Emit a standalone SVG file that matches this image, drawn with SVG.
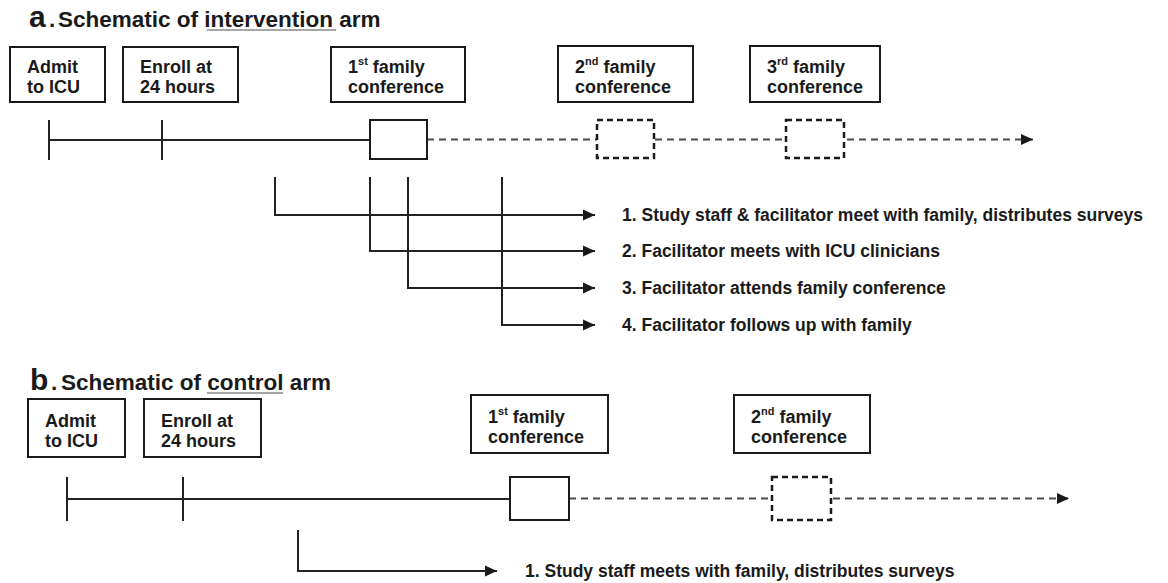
<svg xmlns="http://www.w3.org/2000/svg" width="1168" height="583" viewBox="0 0 1168 583">
<style>
text{font-family:"Liberation Sans",Arial,Helvetica,sans-serif;font-weight:bold;fill:#1a1a1a}
.lbl{font-size:18px}
.sup{font-size:11px}
.step{font-size:17.5px}
.ttl{font-size:22.5px}
.big{font-size:30px}
.box{fill:#fff;stroke:#1a1a1a;stroke-width:2}
.ln{fill:none;stroke:#222;stroke-width:2}
.dash{fill:none;stroke:#4a4a4a;stroke-width:2;stroke-dasharray:7 5}
.dbox{fill:#fff;stroke:#1a1a1a;stroke-width:2.5;stroke-dasharray:6 4}
.ul{stroke:#888;stroke-width:1.5}
</style>
<defs>
<marker id="arr" markerUnits="userSpaceOnUse" markerWidth="13" markerHeight="12" refX="12" refY="6" orient="auto">
<path d="M0,0.5 L12,6 L0,11.5 z" fill="#1a1a1a"/>
</marker>
</defs>

<g id="title-a">
<text x="29" y="27" class="big">a</text>
<text x="49" y="27" class="ttl">.</text>
<text x="58" y="27" class="ttl">Schematic of intervention arm</text>
<line class="ul" x1="207" y1="30" x2="336" y2="30"/>
</g>

<g id="a-admit"><rect class="box" x="10" y="47" width="95" height="55"/>
<text class="lbl" x="27" y="73">Admit</text><text class="lbl" x="27" y="93">to ICU</text></g>
<g id="a-enroll"><rect class="box" x="123" y="47" width="115" height="55"/>
<text class="lbl" x="140" y="73">Enroll at</text><text class="lbl" x="140" y="93">24 hours</text></g>
<g id="a-conf1"><rect class="box" x="331" y="47" width="134" height="55"/>
<text class="lbl" x="348" y="73">1<tspan class="sup" dy="-8">st</tspan><tspan dy="8"> family</tspan></text><text class="lbl" x="348" y="93">conference</text></g>
<g id="a-conf2"><rect class="box" x="558" y="46" width="135" height="56"/>
<text class="lbl" x="575" y="73">2<tspan class="sup" dy="-8">nd</tspan><tspan dy="8"> family</tspan></text><text class="lbl" x="575" y="93">conference</text></g>
<g id="a-conf3"><rect class="box" x="750" y="46" width="130" height="56"/>
<text class="lbl" x="767" y="73">3<tspan class="sup" dy="-8">rd</tspan><tspan dy="8"> family</tspan></text><text class="lbl" x="767" y="93">conference</text></g>

<g id="a-timeline">
<line class="ln" x1="49" y1="140" x2="370" y2="140"/>
<line class="ln" x1="49" y1="120" x2="49" y2="160"/>
<line class="ln" x1="162" y1="120" x2="162" y2="160"/>
<line class="dash" x1="427" y1="139.5" x2="1033" y2="139.5" marker-end="url(#arr)"/>
<rect class="box" x="370" y="120" width="57" height="39"/>
<rect class="dbox" x="597" y="120" width="57" height="38"/>
<rect class="dbox" x="786" y="120" width="58" height="38"/>
</g>

<g id="a-connectors">
<path class="ln" d="M275,177 V215 H595" marker-end="url(#arr)"/>
<path class="ln" d="M370,177 V251 H595" marker-end="url(#arr)"/>
<path class="ln" d="M408,177 V288 H595" marker-end="url(#arr)"/>
<path class="ln" d="M502,177 V325 H595" marker-end="url(#arr)"/>
</g>
<g id="a-steps">
<text class="step" x="622" y="221">1. Study staff &amp; facilitator meet with family, distributes surveys</text>
<text class="step" x="622" y="257">2. Facilitator meets with ICU clinicians</text>
<text class="step" x="622" y="294">3. Facilitator attends family conference</text>
<text class="step" x="622" y="331">4. Facilitator follows up with family</text>
</g>

<g id="title-b">
<text x="30" y="390" class="big">b</text>
<text x="51" y="390" class="ttl">.</text>
<text x="61" y="390" class="ttl">Schematic of control arm</text>
<line class="ul" x1="207" y1="393" x2="283" y2="393"/>
</g>

<g id="b-admit"><rect class="box" x="28" y="399" width="97" height="58"/>
<text class="lbl" x="45" y="427">Admit</text><text class="lbl" x="45" y="447">to ICU</text></g>
<g id="b-enroll"><rect class="box" x="144" y="399" width="117" height="58"/>
<text class="lbl" x="161" y="427">Enroll at</text><text class="lbl" x="161" y="447">24 hours</text></g>
<g id="b-conf1"><rect class="box" x="471" y="395" width="137" height="58"/>
<text class="lbl" x="488" y="423">1<tspan class="sup" dy="-8">st</tspan><tspan dy="8"> family</tspan></text><text class="lbl" x="488" y="443">conference</text></g>
<g id="b-conf2"><rect class="box" x="734" y="395" width="136" height="58"/>
<text class="lbl" x="751" y="423">2<tspan class="sup" dy="-8">nd</tspan><tspan dy="8"> family</tspan></text><text class="lbl" x="751" y="443">conference</text></g>

<g id="b-timeline">
<line class="ln" x1="67" y1="499" x2="510" y2="499"/>
<line class="ln" x1="67" y1="477" x2="67" y2="521"/>
<line class="ln" x1="183" y1="477" x2="183" y2="521"/>
<line class="dash" x1="569" y1="498.5" x2="1069" y2="498.5" marker-end="url(#arr)"/>
<rect class="box" x="510" y="477" width="59" height="43"/>
<rect class="dbox" x="772" y="477" width="59" height="43"/>
</g>

<g id="b-connectors">
<path class="ln" d="M298,530 V571 H497" marker-end="url(#arr)"/>
</g>
<g id="b-steps">
<text class="step" x="525" y="577">1. Study staff meets with family, distributes surveys</text>
</g>
</svg>
